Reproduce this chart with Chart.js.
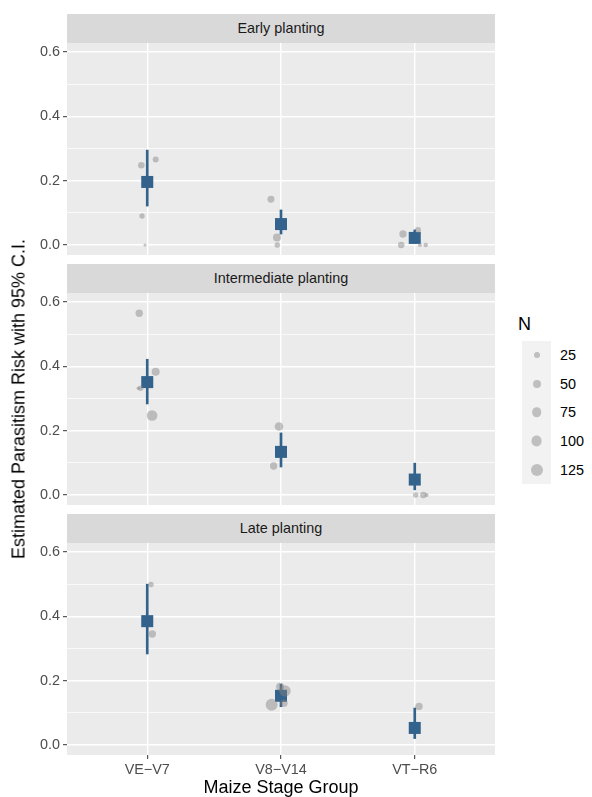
<!DOCTYPE html>
<html lang="en">
<head>
<meta charset="UTF-8">
<title>Estimated Parasitism Risk</title>
<script src="https://cdn.jsdelivr.net/npm/chart.js"></script>
<style>
  body { margin: 0; background: #fff; font-family: "Liberation Sans", Arial, sans-serif; }
  #wrap { position: relative; width: 592px; height: 797px; overflow: hidden; }
  canvas { position: absolute; left: 0; }
  .strip { position: absolute; left: 67px; width: 428px; height: 29px; line-height: 29px;
           background: #d9d9d9; color: #1a1a1a; font-size: 14.4px; text-align: center; }
  .title { position: absolute; font-size: 18px; color: #000; white-space: nowrap; }
  #ytitle { left: 19px; top: 399px; transform: translate(-50%, -50%) rotate(-90deg); }
  #xtitle { left: 281px; top: 787px; transform: translate(-50%, -50%); }
  #ltitle { left: 518px; top: 324px; transform: translateY(-50%); }
  #keys { position: absolute; left: 522px; top: 341px; width: 29px; background: #f2f2f2; }
  .key { position: relative; height: 28.6px; }
  .dot { position: absolute; left: 50%; top: 50%; border-radius: 50%;
         background: rgba(128,128,128,0.45); transform: translate(-50%, -50%); }
  .klab { position: absolute; left: 38px; top: 50%; transform: translateY(-50%); font-size: 14.4px; color: #000; }
</style>
</head>
<body>
<div id="wrap">
  <div class="strip" style="top:14px">Early planting</div>
  <div class="strip" style="top:264px">Intermediate planting</div>
  <div class="strip" style="top:514px">Late planting</div>
  <canvas id="c1" width="510" height="240" style="top:29px"></canvas>
  <canvas id="c2" width="510" height="240" style="top:279px"></canvas>
  <canvas id="c3" width="510" height="256" style="top:529px"></canvas>
  <div class="title" id="ytitle">Estimated Parasitism Risk with 95% C.I.</div>
  <div class="title" id="xtitle">Maize Stage Group</div>
  <div class="title" id="ltitle">N</div>
  <div id="keys"></div>
</div>

<script>
const stages = ["VE\u2212V7", "V8\u2212V14", "VT\u2212R6"];
const yGrid = [0, 0.1, 0.2, 0.3, 0.4, 0.5, 0.6];
const yTicks = [0, 0.2, 0.4, 0.6];
const legendN = [25, 50, 75, 100, 125];

// model estimates with 95% C.I.
const earlyEst  = [0.196, 0.065, 0.022];
const earlyLow  = [0.121, 0.034, 0.006];
const earlyHigh = [0.295, 0.109, 0.047];
const interEst  = [0.351, 0.134, 0.048];
const interLow  = [0.283, 0.087, 0.016];
const interHigh = [0.422, 0.193, 0.099];
const lateEst   = [0.385, 0.153, 0.053];
const lateLow   = [0.283, 0.119, 0.020];
const lateHigh  = [0.500, 0.189, 0.115];

// observed (jittered) field values
const earlyX = [0.956, 1.063, 0.961, 0.983, 1.925, 1.970, 1.972, 2.912, 3.024, 2.899, 3.039, 3.082];
const earlyY = [0.248, 0.266, 0.090, 0.000, 0.142, 0.023, 0.000, 0.034, 0.047, 0.000, 0.000, 0.000];
const earlyN = [31, 25, 19, 4, 36, 50, 19, 41, 25, 31, 9, 13];
const interX = [0.940, 1.063, 0.951, 0.933, 1.036, 1.985, 1.945, 3.007, 3.064, 3.089];
const interY = [0.565, 0.383, 0.332, 0.332, 0.247, 0.213, 0.090, 0.000, 0.000, 0.000];
const interN = [41, 50, 19, 6, 95, 59, 41, 19, 31, 9];
const lateX = [1.028, 1.038, 1.930, 1.993, 2.030, 2.022, 3.032];
const lateY = [0.499, 0.345, 0.125, 0.181, 0.168, 0.130, 0.120];
const lateN = [19, 41, 123, 50, 110, 41, 41];

const blue = "#33638d";
const gray = "rgba(128,128,128,0.45)";
const fam = '"Liberation Sans", Arial, sans-serif';

function pointSize(n) {
  return Math.max(1, 3 + (Math.sqrt(n) - 5) * 0.49);
}
function isMajor(v) {
  return yTicks.some(t => Math.abs(t - v) < 1e-9);
}

const panelBg = {
  id: "panelBg",
  beforeDraw(chart) {
    const a = chart.chartArea, ctx = chart.ctx;
    ctx.save();
    ctx.fillStyle = "#ebebeb";
    ctx.fillRect(a.left, a.top, a.right - a.left, a.bottom - a.top);
    ctx.restore();
  }
};

function makePanel(id, est, low, high, xs, ys, ns, showX) {
  new Chart(document.getElementById(id), {
    type: "scatter",
    data: {
      datasets: [
        {
          type: "scatter", order: 0,
          data: xs.map((x, i) => ({ x: x, y: ys[i], n: ns[i] })),
          backgroundColor: gray, borderWidth: 0,
          pointRadius: c => c.raw ? pointSize(c.raw.n) : 3
        },
        {
          type: "scatter", order: 1,
          data: est.map((y, i) => ({ x: i + 1, y: y })),
          pointStyle: "rect", pointRadius: 8.5,
          backgroundColor: blue, borderWidth: 0
        },
        {
          type: "bar", order: 2, grouped: false,
          data: est.map((_, i) => ({ x: i + 1, y: [low[i], high[i]] })),
          backgroundColor: blue, barThickness: 2, borderWidth: 0
        }
      ]
    },
    options: {
      responsive: false, animation: false, events: [],
      layout: { padding: { top: 14, bottom: showX ? 0 : 14, left: 0, right: 15 } },
      plugins: { legend: { display: false }, tooltip: { enabled: false } },
      scales: {
        x: {
          type: "linear", min: 0.4, max: 3.6, offset: false,
          afterBuildTicks: s => { s.ticks = stages.map((_, i) => ({ value: i + 1 })); },
          afterFit: s => { s.height = showX ? 30 : 0; },
          border: { display: false },
          grid: { offset: false, color: "#fff", lineWidth: 1.4, drawTicks: showX, tickLength: 4,
                  tickColor: "#333", tickWidth: 1 },
          ticks: { display: showX, padding: 2, color: "#4d4d4d", autoSkip: false, maxRotation: 0,
                   font: { size: 14.4, family: fam },
                   callback: v => stages[Math.round(v) - 1] || "" }
        },
        y: {
          type: "linear", min: -0.0311, max: 0.628,
          afterBuildTicks: s => { s.ticks = yGrid.map(v => ({ value: v })); },
          afterFit: s => { s.width = 67; },
          border: { display: false },
          grid: {
            color: "#fff",
            lineWidth: c => (c.tick && !isMajor(c.tick.value)) ? 0.7 : 1.4,
            tickLength: 4, tickWidth: 1,
            tickColor: c => (c.tick && isMajor(c.tick.value)) ? "#333" : "rgba(0,0,0,0)"
          },
          ticks: { padding: 3, color: "#4d4d4d", autoSkip: false,
                   font: { size: 14.4, family: fam },
                   callback: v => isMajor(v) ? v.toFixed(1) : "" }
        }
      }
    },
    plugins: [panelBg]
  });
}

makePanel("c1", earlyEst, earlyLow, earlyHigh, earlyX, earlyY, earlyN, false);
makePanel("c2", interEst, interLow, interHigh, interX, interY, interN, false);
makePanel("c3", lateEst, lateLow, lateHigh, lateX, lateY, lateN, true);

// size legend
const keys = document.getElementById("keys");
legendN.forEach(n => {
  const r = pointSize(n);
  const k = document.createElement("div");
  k.className = "key";
  k.innerHTML = '<div class="dot" style="width:' + (2 * r) + 'px;height:' + (2 * r) + 'px"></div>' +
                '<div class="klab">' + n + '</div>';
  keys.appendChild(k);
});
</script>
</body>
</html>
